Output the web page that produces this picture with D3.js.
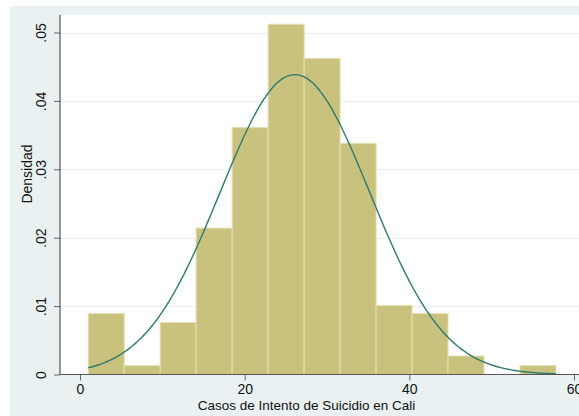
<!DOCTYPE html>
<html>
<head>
<meta charset="utf-8">
<script src="https://cdn.jsdelivr.net/npm/d3@7"></script>
<style>
  html, body { margin: 0; padding: 0; background: #ffffff; }
  svg { display: block; font-family: "Liberation Sans", Arial, sans-serif; }
</style>
</head>
<body>
<svg id="chart" width="579" height="416"></svg>
<script>
// Histogram bins: 13 equal-width bins starting at 1
const binStart = 1;
const binWidth = 4.37;
const densities = [0.0089, 0.0013, 0.0076, 0.0214, 0.0361, 0.0512, 0.0462, 0.0338, 0.0101, 0.0089, 0.0027, 0, 0.0013];

// Normal density overlay parameters
const normalMean = 26.1;
const normalSd = 9.1;
const curveRange = [1, 57.8];

const xTicks = [0, 20, 40, 60];
const yTicks = [0, 0.01, 0.02, 0.03, 0.04, 0.05];
const yTickLabels = ["0", ".01", ".02", ".03", ".04", ".05"];

const xTitle = "Casos de Intento de Suicidio en Cali";
const yTitle = "Densidad";

const svg = d3.select("#chart");
const W = 579, H = 416;

// Outer graph region and plot region
svg.append("rect").attr("x", 10).attr("y", 6).attr("width", W - 10).attr("height", H - 6).attr("fill", "#eaf1f3");
const plot = { left: 60, top: 15, right: W, bottom: 374.5 };
svg.append("rect").attr("x", plot.left).attr("y", plot.top)
  .attr("width", plot.right - plot.left).attr("height", plot.bottom - plot.top).attr("fill", "#ffffff");

const x = d3.scaleLinear().domain([0, 60]).range([80, 574]);
const y = d3.scaleLinear().domain([0, 0.05]).range([374.5, 32.5]);

// Horizontal gridlines
svg.append("g").selectAll("line").data(yTicks.slice(1)).join("line")
  .attr("x1", plot.left).attr("x2", plot.right)
  .attr("y1", d => Math.round(y(d)) + 0.5).attr("y2", d => Math.round(y(d)) + 0.5)
  .attr("stroke", "#e4edf0").attr("stroke-width", 1);

// Bars
const bins = densities.map((d, i) => ({ x0: binStart + i * binWidth, x1: binStart + (i + 1) * binWidth, d }));
svg.append("g").selectAll("rect").data(bins.filter(b => b.d > 0)).join("rect")
  .attr("x", b => x(b.x0)).attr("width", b => x(b.x1) - x(b.x0))
  .attr("y", b => y(b.d)).attr("height", b => y(0) - y(b.d))
  .attr("fill", "#c9c27f").attr("stroke", "#e3dfb0").attr("stroke-width", 1);

// Normal curve
const curvePts = d3.range(curveRange[0], curveRange[1] + 0.001, 0.2).map(v => {
  const z = (v - normalMean) / normalSd;
  return [v, Math.exp(-0.5 * z * z) / (normalSd * Math.sqrt(2 * Math.PI))];
});
svg.append("path").datum(curvePts)
  .attr("d", d3.line().x(d => x(d[0])).y(d => y(d[1])).curve(d3.curveBasis))
  .attr("fill", "none").attr("stroke", "#2f7a6c").attr("stroke-width", 1.4);

// Axes
const xAxis = d3.axisBottom(x).tickValues(xTicks).tickSize(6).tickPadding(4).tickFormat(d3.format("d"));
const gx = svg.append("g").attr("transform", `translate(0,${plot.bottom})`).call(xAxis);
gx.select(".domain").remove();
gx.append("line").attr("x1", plot.left).attr("x2", plot.right).attr("y1", 0).attr("y2", 0).attr("stroke", "#555");
gx.selectAll(".tick line").attr("stroke", "#666");
gx.selectAll(".tick text").attr("font-size", 14).attr("fill", "#111").attr("font-family", "Liberation Sans, Arial, sans-serif");

const yAxis = d3.axisLeft(y).tickValues(yTicks).tickSize(6).tickPadding(0).tickFormat((d, i) => yTickLabels[i]);
const gy = svg.append("g").attr("transform", `translate(${plot.left},0)`).call(yAxis);
gy.select(".domain").remove();
gy.append("line").attr("x1", 0).attr("x2", 0).attr("y1", plot.top).attr("y2", plot.bottom).attr("stroke", "#333");
gy.selectAll(".tick line").attr("stroke", "#666");
gy.selectAll(".tick text")
  .attr("font-size", 14).attr("fill", "#111").attr("font-family", "Liberation Sans, Arial, sans-serif")
  .attr("transform", "rotate(-90)").attr("x", 0).attr("y", -14).attr("dy", 0)
  .attr("text-anchor", "middle");

// Titles
svg.append("text").attr("x", 306.5).attr("y", 410).attr("text-anchor", "middle")
  .attr("font-size", 13.5).attr("fill", "#111").text(xTitle);
svg.append("text").attr("transform", "translate(32,174) rotate(-90)").attr("text-anchor", "middle")
  .attr("font-size", 14).attr("fill", "#111").text(yTitle);
</script>
</body>
</html>
